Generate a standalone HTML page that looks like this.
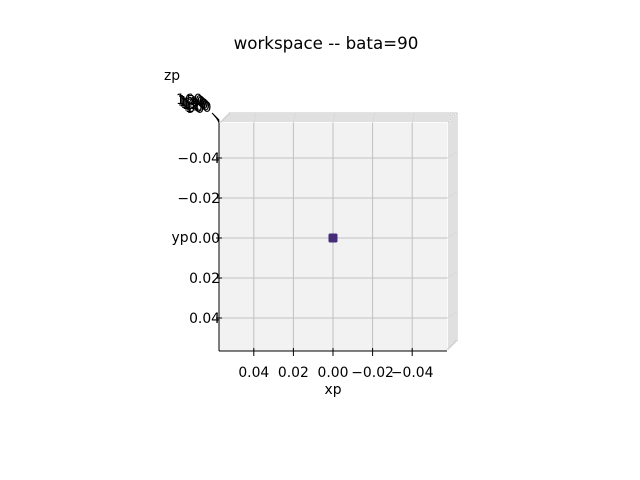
<!DOCTYPE html>
<html><head><meta charset="utf-8"><style>
body{margin:0;background:#fff}
svg{display:block;font-family:"DejaVu Sans","Liberation Sans",sans-serif}
</style></head><body>
<svg id="chart" width="640" height="480" viewBox="0 0 640 480">
<rect width="640" height="480" fill="#fff"/>
<text x="326" y="49" font-size="16.7" text-anchor="middle">workspace -- bata=90</text>
<g id="back"></g>
<g id="grid"></g>
<g id="ticks"></g>
<g id="pts"></g>
<text x="172" y="80" font-size="13.9" text-anchor="middle">zp</text>
<text x="180" y="242" font-size="13.9" text-anchor="middle">yp</text>
<text x="333" y="394" font-size="13.9" text-anchor="middle">xp</text>
</svg>
<script>
const xTicks=[0.04,0.02,0.00,-0.02,-0.04];
const xTickLabels=["0.04","0.02","0.00","\u22120.02","\u22120.04"];
const yTicks=[-0.04,-0.02,0.00,0.02,0.04];
const yTickLabels=["\u22120.04","\u22120.02","0.00","0.02","0.04"];
const zTickLabels=["160","150","140","130","120","110","100","90"];
const pointsX=[0.0];
const pointsY=[0.0];
const NS="http://www.w3.org/2000/svg";
const L=219,R=447,T=123,B=351;
const xs=v=>333-v*1980;
const ys=v=>238+v*2000;
function mk(tag,attrs,parent){const e=document.createElementNS(NS,tag);for(const k in attrs)e.setAttribute(k,attrs[k]);parent.appendChild(e);return e;}
const back=document.getElementById('back'),grid=document.getElementById('grid'),ticks=document.getElementById('ticks'),pts=document.getElementById('pts');
for(let i=5;i>=1;i--){const r=mk('rect',{x:L+i*2,y:T-i*2,width:R-L,height:B-T,fill:'#fbfbfb',stroke:'#b8b8b8','stroke-width':0.8},back);

}
const pane=mk('rect',{x:L,y:T,width:R-L,height:B-T,fill:'#f2f2f2'},back);


xTicks.forEach((v,i)=>{const x=xs(v);
const g=mk('line',{x1:x,y1:T,x2:x,y2:B,stroke:'#c0c0c0','stroke-width':1},grid);


mk('line',{x1:x,y1:T,x2:x+2,y2:T-10,stroke:'#d8d8d8','stroke-width':1},grid);
const t=mk('line',{x1:x,y1:B-3,x2:x,y2:B+5,stroke:'#000','stroke-width':1},ticks);


const lb=mk('text',{x:x,y:B+26,'font-size':13.9,'text-anchor':'middle'},ticks);
lb.textContent=xTickLabels[i];

});
yTicks.forEach((v,i)=>{const y=ys(v);
const g=mk('line',{x1:L,y1:y,x2:R,y2:y,stroke:'#c0c0c0','stroke-width':1},grid);


mk('line',{x1:R,y1:y,x2:R+10,y2:y-6,stroke:'#d8d8d8','stroke-width':1},grid);
const t=mk('line',{x1:L-3,y1:y,x2:L+3,y2:y,stroke:'#000','stroke-width':1},ticks);


const lb=mk('text',{x:L+1,y:y+5,'font-size':13.9,'text-anchor':'end'},ticks);
lb.textContent=yTickLabels[i];

});
zTickLabels.forEach((s,i)=>{const lb=mk('text',{x:176+i*1.5,y:104+i*1.3,'font-size':13.9},ticks);
lb.textContent=s;


mk('line',{x1:212+i*0.8,y1:113+i*0.8,x2:219,y2:120+i*0.4,stroke:'#000','stroke-width':1},ticks);});
mk('line',{x1:L,y1:T,x2:L,y2:B,stroke:'#000','stroke-width':1},ticks);
mk('line',{x1:L,y1:B,x2:R,y2:B,stroke:'#000','stroke-width':1},ticks);
pointsX.forEach((v,i)=>{const p=mk('rect',{x:xs(v)-4.5,y:ys(pointsY[i])-4.5,width:9,height:9,rx:1.5,fill:'#472c7a'},pts);

});
</script>
</body></html>
